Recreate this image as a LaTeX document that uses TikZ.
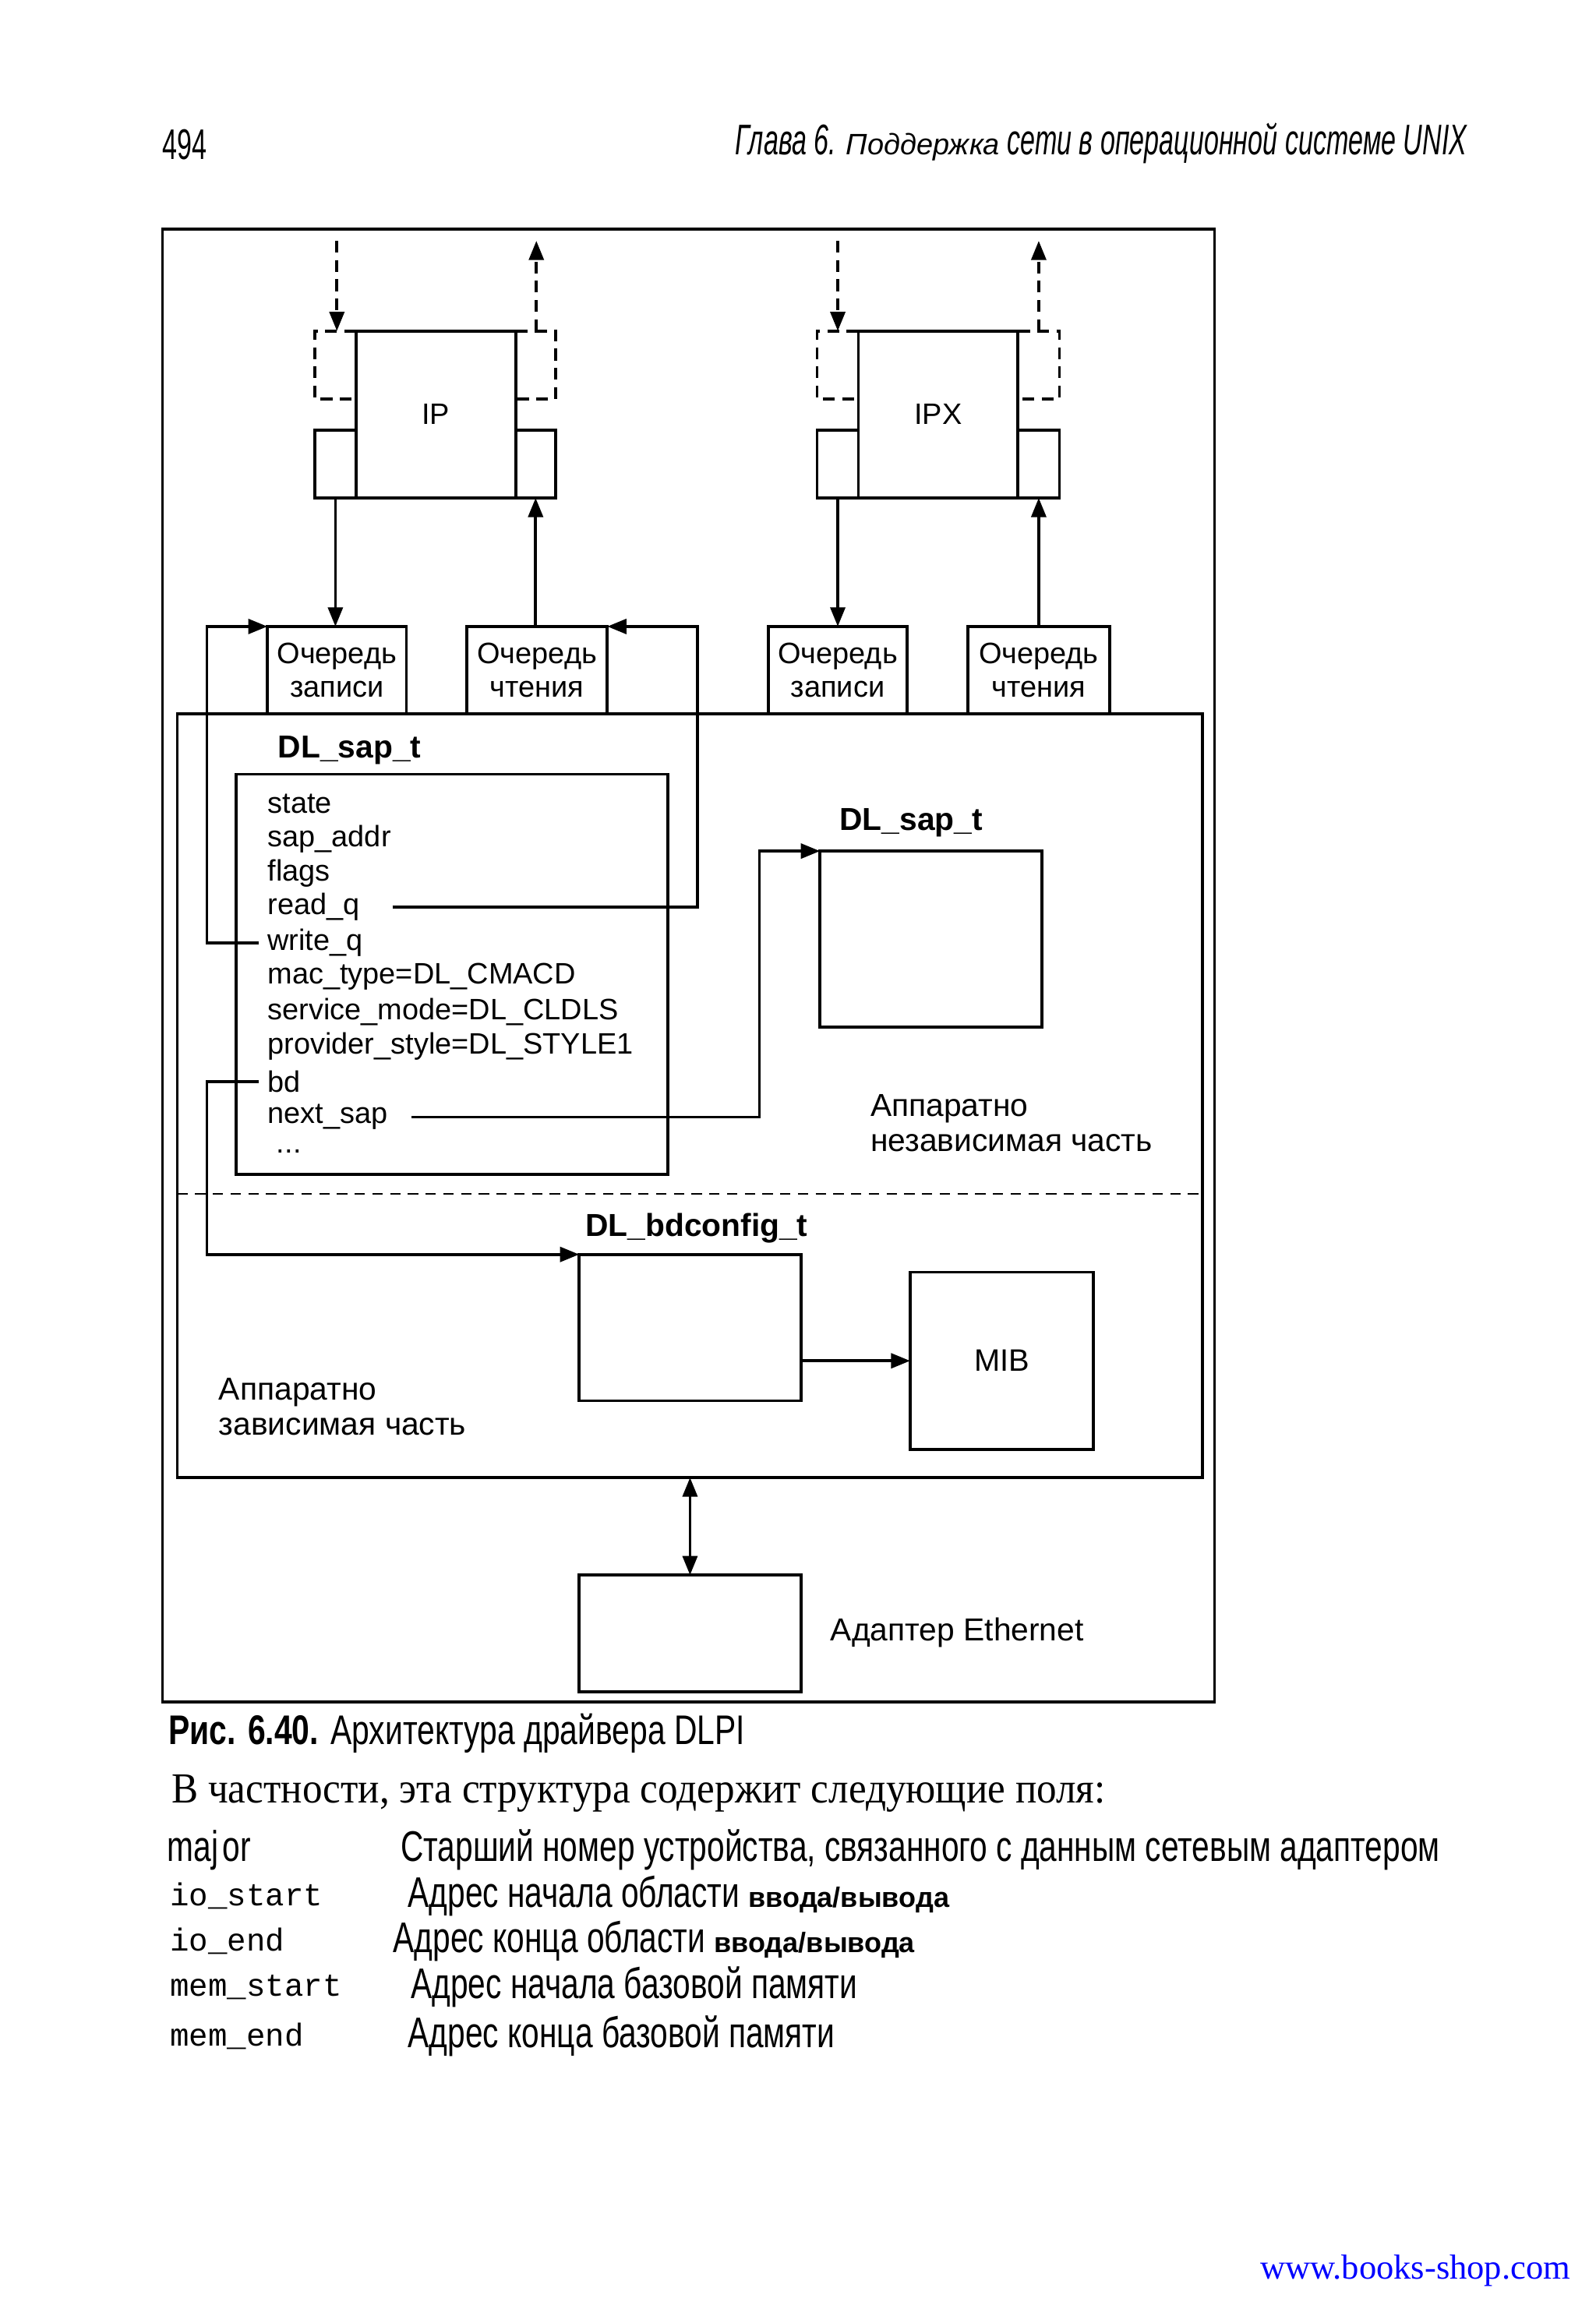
\documentclass[tikz,border=0pt]{standalone}
\usepackage{fontspec}
\setmainfont{Liberation Sans}
\newfontfamily\condf[FakeStretch=0.74]{Liberation Sans}
\newfontfamily\capf[FakeStretch=0.77]{Liberation Sans}
\newfontfamily\hdrf[FakeStretch=0.62]{Liberation Sans}
\newfontfamily\serf[FakeStretch=0.93]{Liberation Serif}
\newfontfamily\wwwf{Liberation Serif}
\newfontfamily\monof{Liberation Mono}
\usetikzlibrary{arrows.meta,calc}
\begin{document}
\begin{tikzpicture}[x=1pt,y=-1pt,
  box/.style={draw, line width=2pt, rectangle, inner sep=0pt, outer sep=0pt, anchor=north west, align=center, font=\fontsize{20}{23}\selectfont},
  ghost/.style={rectangle, inner sep=0pt, outer sep=0pt, anchor=north west},
  arr/.style={line width=2pt, -{Triangle[length=13pt,width=10pt]}},
  darr/.style={line width=2pt, {Triangle[length=13pt,width=10pt]}-{Triangle[length=13pt,width=10pt]}},
  dsh/.style={line width=2pt, dash pattern=on 8pt off 5pt},
  sep/.style={line width=0.9pt, dash pattern=on 7pt off 5pt},
  fld/.style={anchor=west, inner sep=0pt, font=\fontsize{20}{24}\selectfont},
  lbl/.style={anchor=west, inner sep=0pt, font=\fontsize{21.5}{24}\selectfont, align=left},
  ttl/.style={anchor=west, inner sep=0pt, font=\bfseries\fontsize{21.5}{24}\selectfont},
  txt/.style={anchor=west, inner sep=0pt},
  mono/.style={anchor=west, inner sep=0pt, font=\monof\fontsize{21.5}{24}\selectfont},
  row/.style={anchor=west, inner sep=0pt, font=\condf\fontsize{29}{31}\selectfont},
]
\useasboundingbox (0,0) rectangle (1080,1558);

% header
\node[txt, font=\hdrf\fontsize{29}{31}\selectfont] (pg) at (110,98) {494};
\node[anchor=east, inner sep=0pt, font=\hdrf\itshape\fontsize{29}{31}\selectfont] (hd) at (993,97)
  {Глава 6. {\normalfont\itshape\fontsize{20}{22}\selectfont Поддержка} сети в операционной системе UNIX};

% frames
\node[box, minimum width=712pt, minimum height=997pt] (outer) at (110,155) {};
\node[box, minimum width=694pt, minimum height=517pt] (drv) at (120,483) {};

% IP block
\node[box, minimum width=108pt, minimum height=113pt] (ip) at (241,224) {IP};
\node[box, minimum width=28pt, minimum height=46pt] (ipls) at (213,291) {};
\node[box, minimum width=27pt, minimum height=46pt] (iprs) at (349,291) {};
\node[ghost, minimum width=28pt, minimum height=46pt] (ipld) at (213,224) {};
\node[ghost, minimum width=27pt, minimum height=46pt] (iprd) at (349,224) {};
\draw[dsh] (ipld.north east) -- (ipld.north west) -- (ipld.south west) -- (ipld.south east);
\draw[dsh] (iprd.north west) -- (iprd.north east) -- (iprd.south east) -- (iprd.south west);
\coordinate (ipin) at (228,163);
\coordinate (ipout) at (363,163);
\draw[dsh, arr] (ipin) -- (ipin |- ipld.north);
\draw[dsh, arr] (ipout |- iprd.north) -- (ipout);

% IPX block
\node[box, minimum width=108pt, minimum height=113pt] (ipx) at (581,224) {IPX};
\node[box, minimum width=28pt, minimum height=46pt] (ipxls) at (553,291) {};
\node[box, minimum width=28pt, minimum height=46pt] (ipxrs) at (689,291) {};
\node[ghost, minimum width=28pt, minimum height=46pt] (ipxld) at (553,224) {};
\node[ghost, minimum width=28pt, minimum height=46pt] (ipxrd) at (689,224) {};
\draw[dsh] (ipxld.north east) -- (ipxld.north west) -- (ipxld.south west) -- (ipxld.south east);
\draw[dsh] (ipxrd.north west) -- (ipxrd.north east) -- (ipxrd.south east) -- (ipxrd.south west);
\coordinate (ipxin) at (567,163);
\coordinate (ipxout) at (703,163);
\draw[dsh, arr] (ipxin) -- (ipxin |- ipxld.north);
\draw[dsh, arr] (ipxout |- ipxrd.north) -- (ipxout);

% queues
\node[box, minimum width=94pt, minimum height=59pt] (q1) at (181,424) {Очередь\\записи};
\node[box, minimum width=95pt, minimum height=59pt] (q2) at (316,424) {Очередь\\чтения};
\node[box, minimum width=94pt, minimum height=59pt] (q3) at (520,424) {Очередь\\записи};
\node[box, minimum width=96pt, minimum height=59pt] (q4) at (655,424) {Очередь\\чтения};

\draw[arr] (ipls.south) -- (ipls.south |- q1.north);
\draw[arr] (q2.north -| iprs.south) -- (iprs.south);
\draw[arr] (ipxls.south) -- (ipxls.south |- q3.north);
\draw[arr] (q4.north -| ipxrs.south) -- (ipxrs.south);

% DL_sap_t structure
\node[ttl] (sapttl) at (188,508) {DL\_sap\_t};
\node[box, minimum width=292pt, minimum height=271pt] (sap) at (160,524) {};
\node[fld] (fstate) at (181,544) {state};
\node[fld] (faddr) at (181,568) {sap\_addr};
\node[fld] (fflags) at (181,591) {flags};
\node[fld] (fread) at (181,614) {read\_q};
\node[fld] (fwrite) at (181,638) {write\_q};
\node[fld] (fmac) at (181,661) {mac\_type=DL\_CMACD};
\node[fld] (fserv) at (181,685) {service\_mode=DL\_CLDLS};
\node[fld] (fprov) at (181,708) {provider\_style=DL\_STYLE1};
\node[fld] (fbd) at (181,732) {bd};
\node[fld] (fnext) at (181,756) {next\_sap};
\node[fld] (fdots) at (187,779) {...};

% second DL_sap_t
\node[ttl] (sap2ttl) at (568,557) {DL\_sap\_t};
\node[box, minimum width=150pt, minimum height=119pt] (sap2) at (555,576) {};
\node[lbl] (indep) at (589,760) {Аппаратно\\независимая часть};

% separator
\draw[sep] (drv.west |- 0,808) -- (drv.east |- 0,808);

% hardware-dependent part
\node[ttl] (bdttl) at (396,831) {DL\_bdconfig\_t};
\node[box, minimum width=150pt, minimum height=99pt] (bdc) at (392,849) {};
\node[box, minimum width=124pt, minimum height=120pt, font=\fontsize{21}{23}\selectfont] (mib) at (616,861) {MIB};
\node[lbl] (dep) at (148,952) {Аппаратно\\зависимая часть};
\draw[arr] (bdc.east |- mib.west) -- (mib.west);

% Ethernet adapter
\node[box, minimum width=150pt, minimum height=79pt] (eth) at (392,1066) {};
\node[lbl] (ethl) at (562,1105) {Адаптер Ethernet};
\draw[darr] (eth.north |- drv.south) -- (eth.north);

% connectors from the fields
\draw[arr] ([xshift=22pt]fread.east) -| (472,424) -- (q2.north east);
\draw[arr] ([xshift=-6pt]fwrite.west) -- (140,638) -- (140,424) -- (q1.north west);
\draw[arr] ([xshift=-6pt]fbd.west) -- (140,732) -- (140,849) -- (bdc.north west);
\draw[arr] ([xshift=16pt]fnext.east) -- (514,756) -- (514,576) -- (sap2.north west);

% caption and text below
\node[txt, font=\capf\fontsize{28}{30}\selectfont] (cap) at (114,1173)
  {\textbf{Рис. 6.40.} Архитектура драйвера DLPI};
\node[txt, font=\serf\fontsize{29}{31}\selectfont] (intro) at (116,1214)
  {В частности, эта структура содержит следующие поля:};

\node[row] (k1) at (113,1252) {maj\hspace{3pt}or};
\node[mono] (k2) at (115,1283) {io\_start};
\node[mono] (k3) at (115,1314) {io\_end};
\node[mono] (k4) at (115,1345) {mem\_start};
\node[mono] (k5) at (115,1378) {mem\_end};

\node[row] (v1) at (271,1252) {Старший номер устройства, связанного с данным сетевым адаптером};
\node[row] (v2) at (276,1283) {Адрес начала области {\normalfont\bfseries\fontsize{19}{24}\selectfont ввода/вывода}};
\node[row] (v3) at (266,1314) {Адрес конца области {\normalfont\bfseries\fontsize{19}{24}\selectfont ввода/вывода}};
\node[row] (v4) at (278,1345) {Адрес начала базовой памяти};
\node[row] (v5) at (276,1378) {Адрес конца базовой памяти};

\node[anchor=east, inner sep=0pt, text=blue, font=\wwwf\fontsize{23.5}{26}\selectfont] (www) at (1063,1537) {www.books-shop.com};
\end{tikzpicture}
\end{document}
